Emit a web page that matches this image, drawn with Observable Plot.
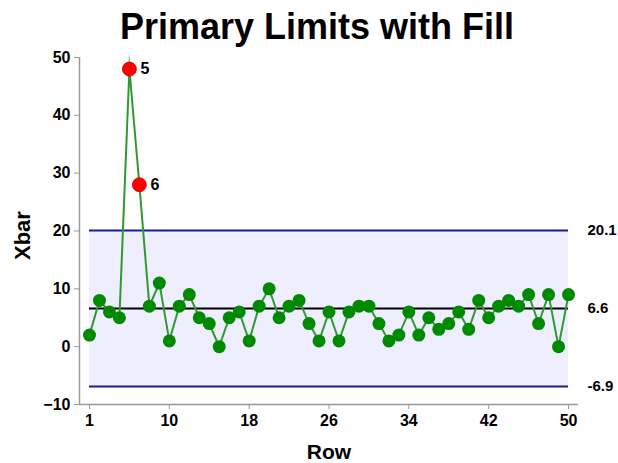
<!DOCTYPE html>
<html>
<head>
<meta charset="utf-8">
<script src="https://cdn.jsdelivr.net/npm/d3@7"></script>
<script src="https://cdn.jsdelivr.net/npm/@observablehq/plot@0.6"></script>
<style>
  html, body { margin: 0; padding: 0; background: #fff; }
  #wrap { width: 618px; height: 463px; overflow: hidden; font-family: "Liberation Sans", Arial, sans-serif; }
  #title { height: 41px; padding-top: 9px; padding-left: 16px; box-sizing: content-box; font-size: 36px; font-weight: bold; line-height: 36px; text-align: center; color: #000; white-space: nowrap; }
</style>
</head>
<body>
<div id="wrap">
  <div id="title">Primary Limits with Fill</div>
  <div id="chart"></div>
</div>
<script>
// Xbar value for each row (rows 1..49 in order)
const xbar = [2, 8, 6, 5, 48, 28, 7, 11, 1, 7,
              9, 5, 4, 0, 5, 6, 1, 7, 10, 5,
              7, 8, 4, 1, 6, 1, 6, 7, 7, 4,
              1, 2, 6, 2, 5, 3, 4, 6, 3, 8,
              5, 7, 8, 7, 9, 4, 9, 0, 9];
const outlierRows = [5, 6];
const limitValues = [20.1, 6.6, -6.9];   // UCL, CL, LCL
const limitLabels = ["20.1", "6.6", "-6.9"];
const yTicks = [-10, 0, 10, 20, 30, 40, 50];
const xTickRows = [1, 9, 17, 25, 33, 41, 49];
const xTickLabels = ["1", "10", "18", "26", "34", "42", "50"];
const xDomain = [0, 50];
const yDomain = [-10, 50];

const data = xbar.map((v, i) => ({row: i + 1, xbar: v}));
const firstRow = data[0].row, lastRow = data[data.length - 1].row;
const normal = data.filter(d => !outlierRows.includes(d.row));
const outliers = data.filter(d => outlierRows.includes(d.row));
const [ucl, cl, lcl] = limitValues;

const chart = Plot.plot({
  width: 618,
  height: 413,
  marginLeft: 79,
  marginRight: 40,
  marginTop: 7,
  marginBottom: 59,
  style: {fontFamily: "'Liberation Sans', Arial, sans-serif", color: "#000", background: "#fff", overflow: "visible"},
  x: {domain: xDomain, axis: null},
  y: {domain: yDomain, axis: null},
  marks: [
    Plot.rect([{x1: firstRow, x2: lastRow, y1: lcl, y2: ucl}], {x1: "x1", x2: "x2", y1: "y1", y2: "y2", fill: "#eeeeff"}),
    Plot.ruleY([ucl, lcl], {x1: firstRow, x2: lastRow, stroke: "#1a1a9a", strokeWidth: 2}),
    Plot.ruleY([cl], {x1: firstRow, x2: lastRow, stroke: "#000", strokeWidth: 2}),
    Plot.ruleX([xDomain[0]], {y1: yDomain[0], y2: yDomain[1], stroke: "#9a9a9a", strokeWidth: 1.5}),
    Plot.ruleY([yDomain[0]], {x1: xDomain[0], x2: xDomain[1], stroke: "#9a9a9a", strokeWidth: 1.5}),
    Plot.axisY(yTicks, {tickSize: 5, tickPadding: 4, stroke: "#9a9a9a", fill: "#000", fontSize: 16, fontWeight: "bold", label: null}),
    Plot.axisX(xTickRows, {tickSize: 5, tickPadding: 5, stroke: "#9a9a9a", fill: "#000", fontSize: 16, fontWeight: "bold", label: null,
      tickFormat: d => xTickLabels[xTickRows.indexOf(d)]}),
    Plot.text(["Xbar"], {frameAnchor: "left", rotate: -90, dx: -57, dy: 29, fontSize: 22, fontWeight: "bold", fill: "#000"}),
    Plot.text(["Row"], {frameAnchor: "bottom", dy: 54, fontSize: 21, fontWeight: "bold", fill: "#000"}),
    Plot.text(limitValues, {x: lastRow, y: d => d, text: (d, i) => limitLabels[i], dx: 19, textAnchor: "start", fontSize: 15, fontWeight: "bold", fill: "#000"}),
    Plot.line(data, {x: "row", y: "xbar", stroke: "#2f9a2f", strokeWidth: 2, strokeLinejoin: "miter", strokeMiterlimit: 20}),
    Plot.dot(normal, {x: "row", y: "xbar", r: 6.5, fill: "#008a00", stroke: null}),
    Plot.dot(outliers, {x: "row", y: "xbar", r: 7, fill: "#ff0000", stroke: "#cc0000", strokeWidth: 0.8}),
    Plot.text(outliers, {x: "row", y: "xbar", text: d => String(d.row), dx: 11, textAnchor: "start", fontSize: 16, fontWeight: "bold", fill: "#000"})
  ]
});
document.getElementById("chart").appendChild(chart);
</script>
</body>
</html>
